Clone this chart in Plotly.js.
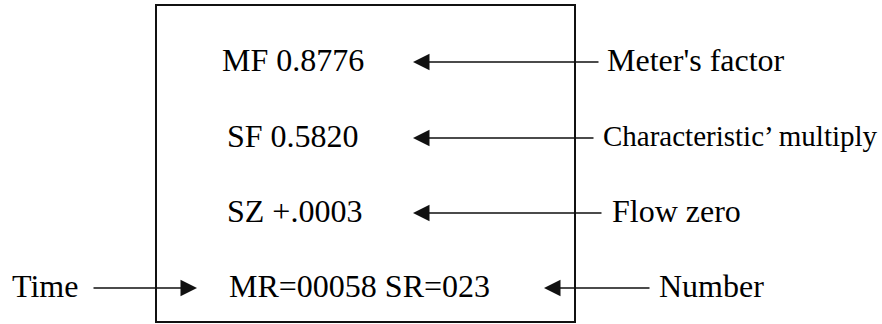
<!DOCTYPE html>
<html>
<head>
<meta charset="utf-8">
<script src="https://cdn.plot.ly/plotly-3.0.1.min.js"></script>
<style>html,body{margin:0;padding:0;background:#fff;}#chart{width:882px;height:324px;}</style>
</head>
<body>
<div id="chart"></div>
<script>
// Display readings shown inside the meter box
const displayLines = ["MF 0.8776", "SF 0.5820", "SZ +.0003", "MR=00058 SR=023"];
// Explanatory labels to the right
const rightLabels = ["Meter's factor", "Characteristic\u2019 multiply", "Flow zero", "Number"];
// Label on the left
const leftLabels = ["Time"];

// layout geometry (pixel-like coordinates on a 882x324 canvas)
const rowY = [62, 138, 213, 288];
const textX = [222, 227, 227, 229];
const rightTextX = [607, 603, 612, 659];
const rightLineEnd = [600, 595, 603, 651];
const arrowTip = [413, 413, 413, 544];
const rightSize = [32, 29, 32, 32];

const FAM = "Liberation Serif";
const traces = [];
// texts inside box
traces.push({type: "scatter", mode: "text", x: textX, y: rowY.map(v => v + 1), text: displayLines,
  textposition: "middle right", textfont: {family: FAM, size: 32, color: "#000000"}, hoverinfo: "skip"});
// right labels
traces.push({type: "scatter", mode: "text", x: rightTextX, y: rowY.map(v => v + 1), text: rightLabels,
  textposition: "middle right", textfont: {family: FAM, size: rightSize, color: "#000000"}, hoverinfo: "skip"});
// left label
traces.push({type: "scatter", mode: "text", x: [12], y: [289], text: leftLabels,
  textposition: "middle right", textfont: {family: FAM, size: 32, color: "#000000"}, hoverinfo: "skip"});

const annotations = [];
const shapes = [];
shapes.push({type: "rect", xref: "x", yref: "y", x0: 156, x1: 575, y0: 5, y1: 322,
  line: {color: "#111111", width: 2}, fillcolor: "rgba(0,0,0,0)"});
rightLabels.forEach((t, i) => {
  annotations.push({x: arrowTip[i], y: rowY[i], ax: rightLineEnd[i], ay: rowY[i],
    xref: "x", yref: "y", axref: "x", ayref: "y", text: "", showarrow: true,
    arrowhead: 2, arrowsize: 2.2, arrowwidth: 1.5, arrowcolor: "#111111", standoff: 0, startstandoff: 0});
});
annotations.push({x: 197, y: 288, ax: 92, ay: 288, xref: "x", yref: "y", axref: "x", ayref: "y",
  text: "", showarrow: true, arrowhead: 2, arrowsize: 2.2, arrowwidth: 1.5, arrowcolor: "#111111",
  standoff: 0, startstandoff: 0});

const layout = {
  width: 882, height: 324,
  margin: {l: 0, r: 0, t: 0, b: 0},
  paper_bgcolor: "#fff", plot_bgcolor: "#fff",
  xaxis: {range: [0, 882], visible: false, fixedrange: true},
  yaxis: {range: [324, 0], visible: false, fixedrange: true},
  showlegend: false,
  shapes: shapes,
  annotations: annotations
};
Plotly.newPlot("chart", traces, layout, {displayModeBar: false, staticPlot: true});
</script>
</body>
</html>
